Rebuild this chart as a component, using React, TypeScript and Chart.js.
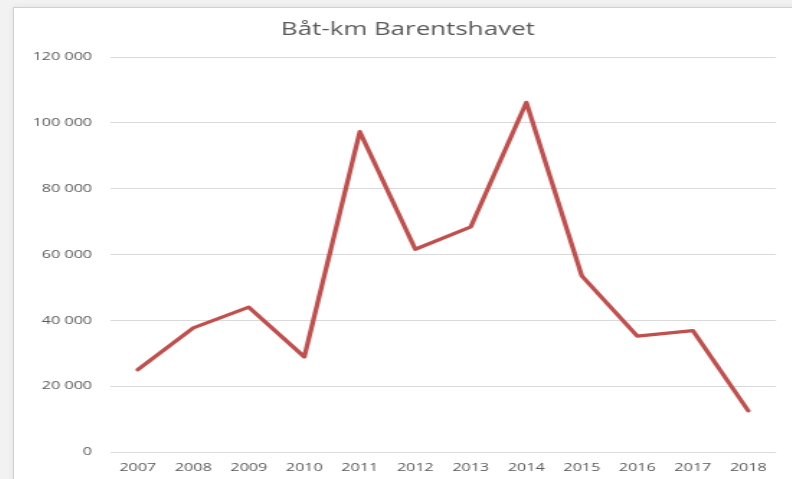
import React, { useEffect, useRef } from "react";
import { Chart, registerables } from "chart.js";

Chart.register(...registerables);

const years = ["2007", "2008", "2009", "2010", "2011", "2012", "2013", "2014", "2015", "2016", "2017", "2018"];
const boatKm = [25000, 37700, 44000, 28900, 97300, 61600, 68400, 106200, 53500, 35200, 36900, 12500];
const chartTitle = "Båt-km Barentshavet";
const yMin = 0;
const yMax = 120000;
const yStep = 20000;

const STRETCH = 1.44;
const FONT = "'Open Sans', sans-serif";

function fmt(v: number): string {
  return String(v).replace(/\B(?=(\d{3})+(?!\d))/g, " ");
}

export default function App() {
  const ref = useRef<HTMLCanvasElement | null>(null);

  useEffect(() => {
    if (!ref.current) return;
    const chart = new Chart(ref.current, {
      type: "line",
      data: {
        labels: years,
        datasets: [
          {
            label: chartTitle,
            data: boatKm,
            borderColor: "#c0504d",
            backgroundColor: "#c0504d",
            borderWidth: 3.3,
            borderCapStyle: "round",
            borderJoinStyle: "round",
            pointRadius: 0,
            tension: 0,
            yAxisID: "y",
          },
        ],
      },
      options: {
        responsive: false,
        animation: false,
        layout: { padding: { left: 0, right: 0, top: 0, bottom: 0 } },
        plugins: {
          legend: { display: false },
          tooltip: { enabled: false },
          title: {
            display: true,
            text: chartTitle,
            color: "#595959",
            font: { family: FONT, size: 18, weight: "normal", lineHeight: 1.2 },
            padding: { top: 11.2, bottom: 16.2 },
          },
        },
        scales: {
          x: {
            offset: true,
            grid: { display: false, drawTicks: false, offset: true },
            border: { display: false },
            ticks: {
              color: "#595959",
              font: { family: FONT, size: 11.2 },
              padding: 9,
              maxRotation: 0,
              autoSkip: false,
            },
            afterFit: (scale: any) => {
              scale.height = 27;
            },
          },
          y: {
            min: yMin,
            max: yMax,
            grid: { color: "#d9d9d9", lineWidth: 1, drawTicks: false },
            border: { display: false },
            ticks: {
              stepSize: yStep,
              color: "#595959",
              font: { family: FONT, size: 11.2 },
              padding: 12.5,
              callback: (v: any) => fmt(Number(v)),
            },
            afterFit: (scale: any) => {
              scale.width = 66.7;
            },
          },
          yRight: {
            type: "linear",
            position: "right",
            min: yMin,
            max: yMax,
            grid: { display: false, drawTicks: false },
            border: { display: false },
            ticks: { display: false },
            afterFit: (scale: any) => {
              scale.width = 17.8;
            },
          },
        },
      },
    });
    return () => chart.destroy();
  }, []);

  return (
    <div
      style={{
        position: "fixed",
        left: 0,
        top: 0,
        width: 792,
        height: 479,
        overflow: "hidden",
        background: "#f2f2f2",
      }}
    >
      <div
        style={{
          position: "absolute",
          left: 13,
          top: 7,
          width: 800,
          height: 480,
          background: "#ffffff",
          borderLeft: "1px solid #d0d0d0",
          borderTop: "1px solid #d0d0d0",
          boxShadow: "0 0 6px rgba(0,0,0,0.08)",
        }}
      >
        <canvas
          ref={ref}
          width={547}
          height={471}
          style={{
            position: "absolute",
            left: 0,
            top: 0,
            width: 547,
            height: 471,
            transform: `scaleX(${STRETCH})`,
            transformOrigin: "0 0",
          }}
        />
      </div>
    </div>
  );
}
